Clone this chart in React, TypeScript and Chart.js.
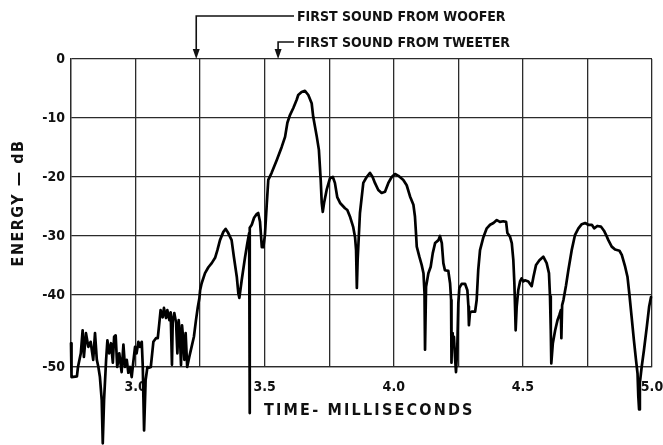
import React, { useEffect, useRef } from "react";
import { Chart, registerables } from "chart.js";

Chart.register(...registerables);

// ---- data (time in ms, energy in dB) ----
const TIME_MS = [
  2.750, 2.752, 2.773, 2.777, 2.788, 2.795, 2.800, 2.808, 2.817, 2.826,
  2.836, 2.843, 2.850, 2.856, 2.862, 2.869, 2.873, 2.878, 2.886, 2.891,
  2.898, 2.905, 2.912, 2.917, 2.923, 2.929, 2.937, 2.946, 2.953, 2.959,
  2.966, 2.972, 2.979, 2.985, 2.991, 2.998, 3.004, 3.011, 3.017, 3.024,
  3.028, 3.033, 3.039, 3.046, 3.052, 3.059, 3.069, 3.079, 3.086, 3.092,
  3.097, 3.105, 3.110, 3.118, 3.123, 3.131, 3.136, 3.141, 3.144, 3.150,
  3.157, 3.162, 3.167, 3.172, 3.176, 3.180, 3.185, 3.189, 3.194, 3.200,
  3.208, 3.217, 3.226, 3.234, 3.241, 3.247, 3.250, 3.256, 3.269, 3.282,
  3.295, 3.308, 3.317, 3.327, 3.340, 3.349, 3.359, 3.372, 3.381, 3.392,
  3.398, 3.402, 3.411, 3.424, 3.433, 3.440, 3.4415, 3.443, 3.450, 3.459,
  3.469, 3.475, 3.482, 3.489, 3.495, 3.501, 3.508, 3.514, 3.527, 3.547,
  3.566, 3.579, 3.588, 3.598, 3.611, 3.624, 3.630, 3.643, 3.656, 3.669,
  3.682, 3.688, 3.702, 3.710, 3.717, 3.721, 3.725, 3.730, 3.740, 3.753,
  3.764, 3.772, 3.781, 3.792, 3.811, 3.820, 3.831, 3.843, 3.850, 3.854,
  3.857, 3.860, 3.869, 3.882, 3.895, 3.908, 3.918, 3.927, 3.940, 3.953,
  3.966, 3.979, 3.992, 4.005, 4.018, 4.037, 4.050, 4.063, 4.076, 4.082,
  4.086, 4.089, 4.099, 4.108, 4.115, 4.119, 4.121, 4.125, 4.134, 4.143,
  4.151, 4.160, 4.173, 4.179, 4.186, 4.192, 4.198, 4.211, 4.218, 4.222,
  4.223, 4.224, 4.226, 4.228, 4.233, 4.237, 4.241, 4.246, 4.250, 4.254,
  4.263, 4.276, 4.285, 4.289, 4.291, 4.295, 4.302, 4.315, 4.321, 4.327,
  4.334, 4.347, 4.360, 4.373, 4.386, 4.399, 4.411, 4.424, 4.435, 4.440,
  4.450, 4.457, 4.463, 4.467, 4.470, 4.472, 4.476, 4.482, 4.489, 4.495,
  4.502, 4.508, 4.521, 4.534, 4.541, 4.551, 4.564, 4.579, 4.592, 4.601,
  4.605, 4.608, 4.610, 4.616, 4.625, 4.634, 4.641, 4.647, 4.649, 4.652,
  4.657, 4.667, 4.676, 4.689, 4.702, 4.715, 4.728, 4.741, 4.753, 4.767,
  4.776, 4.788, 4.802, 4.814, 4.822, 4.831, 4.844, 4.857, 4.874, 4.883,
  4.896, 4.905, 4.912, 4.921, 4.930, 4.938, 4.944, 4.947, 4.950, 4.953,
  4.960, 4.969, 4.980, 4.989, 4.996,
];

const ENERGY_DB = [
  -46.7, -51.4, -51.3, -50.0, -48.1, -44.9, -48.6, -45.3, -47.2, -46.5,
  -49.0, -45.3, -49.0, -50.0, -51.4, -54.6, -60.6, -54.6, -49.0, -46.3,
  -48.1, -46.7, -49.4, -45.8, -45.6, -50.0, -48.1, -50.7, -46.9, -50.0,
  -49.0, -50.8, -50.0, -51.4, -49.4, -47.2, -48.1, -46.5, -47.2, -46.5,
  -50.0, -58.8, -51.8, -50.0, -50.1, -50.0, -46.5, -46.0, -46.0, -43.9,
  -42.1, -43.1, -41.8, -43.2, -42.1, -43.5, -42.4, -49.7, -43.5, -42.5,
  -43.9, -48.1, -43.5, -45.8, -49.7, -44.2, -46.3, -49.0, -45.3, -50.0,
  -48.6, -47.2, -45.8, -43.5, -41.7, -40.5, -39.2, -38.0, -36.3, -35.3,
  -34.6, -33.7, -32.4, -30.7, -29.3, -28.8, -29.5, -30.7, -33.6, -36.9,
  -39.7, -40.4, -37.5, -33.6, -31.2, -29.5, -56.4, -28.6, -28.1, -26.9,
  -26.3, -26.1, -27.6, -31.9, -31.9, -29.8, -24.7, -20.5, -19.3, -17.1,
  -14.9, -13.2, -10.8, -9.5, -8.3, -6.9, -6.1, -5.6, -5.4, -6.1,
  -7.5, -9.8, -13.2, -15.4, -20.5, -24.4, -25.9, -24.4, -22.2, -20.2,
  -20.0, -21.0, -23.4, -24.4, -25.3, -25.6, -26.8, -28.5, -30.2, -32.4,
  -38.8, -34.1, -26.1, -21.0, -20.0, -19.3, -20.0, -21.0, -22.2, -22.7,
  -22.5, -21.0, -20.0, -19.5, -19.8, -20.5, -21.4, -23.3, -24.7, -26.7,
  -29.5, -31.8, -33.5, -34.9, -36.3, -39.7, -47.6, -38.6, -36.3, -35.2,
  -32.9, -31.2, -30.7, -30.0, -31.2, -34.6, -35.8, -35.9, -38.0, -40.7,
  -45.3, -49.4, -45.3, -46.3, -45.8, -48.6, -50.7, -47.2, -41.1, -38.8,
  -38.1, -38.1, -39.2, -41.6, -44.2, -42.5, -42.3, -42.3, -40.7, -35.8,
  -32.4, -30.2, -28.7, -28.1, -27.8, -27.3, -27.6, -27.5, -27.6, -29.5,
  -30.1, -31.2, -34.1, -38.0, -42.1, -44.9, -41.6, -39.2, -37.7, -37.2,
  -37.7, -37.5, -37.7, -38.5, -36.9, -34.9, -34.1, -33.5, -34.6, -36.3,
  -40.2, -44.9, -49.5, -46.7, -44.9, -43.5, -42.8, -42.1, -46.0, -41.4,
  -40.7, -38.4, -35.8, -32.4, -29.8, -28.7, -28.0, -27.8, -28.1, -28.1,
  -28.7, -28.3, -28.4, -29.1, -29.8, -30.7, -31.8, -32.3, -32.5, -33.2,
  -35.2, -36.9, -39.7, -43.0, -46.3, -49.0, -50.9, -54.1, -55.9, -52.2,
  -50.0, -47.6, -44.4, -41.6, -40.3,
];

const X_GRID_MS = [2.75, 3.0, 3.25, 3.5, 3.75, 4.0, 4.25, 4.5, 4.75, 5.0];
const X_LABELED_MS = [3.0, 3.5, 4.0, 4.5, 5.0];
const Y_TICKS_DB = [0, -10, -20, -30, -40, -50];

const MARKER_TIMES = [3.235, 3.552];
const MARKER_LABELS = ["FIRST SOUND FROM WOOFER", "FIRST SOUND FROM TWEETER"];
const X_TITLE = "TIME- MILLISECONDS";
const Y_TITLE = "ENERGY — dB";

// The printed chart's bottom row (-40 to -50 dB) is drawn taller than the others.
const LOW_ROW_STRETCH = 72 / 59;
const toDisplay = (v: number) => (v >= -40 ? v : -40 + (v + 40) * LOW_ROW_STRETCH);

const FONT = '"DejaVu Sans Condensed", "Liberation Sans Narrow", sans-serif';

const annotations = {
  id: "annotations",
  afterDraw(chart: any) {
    const { ctx, chartArea, scales } = chart;
    const x = scales.x;
    ctx.save();
    ctx.strokeStyle = "#111";
    ctx.fillStyle = "#111";
    ctx.lineWidth = 1.6;
    const textX = 297;
    const rowY = [16, 42];
    ctx.font = `bold 14px ${FONT}`;
    ctx.textBaseline = "middle";
    ctx.textAlign = "left";
    MARKER_TIMES.forEach((t, i) => {
      const px = x.getPixelForValue(t);
      const y0 = rowY[i];
      ctx.beginPath();
      ctx.moveTo(textX - 3, y0);
      ctx.lineTo(px, y0);
      ctx.lineTo(px, chartArea.top - 6);
      ctx.stroke();
      ctx.beginPath();
      ctx.moveTo(px - 3.5, chartArea.top - 10);
      ctx.lineTo(px + 3.5, chartArea.top - 10);
      ctx.lineTo(px, chartArea.top);
      ctx.closePath();
      ctx.fill();
      ctx.fillText(MARKER_LABELS[i], textX, y0 + 1);
    });
    // axis titles
    ctx.font = `bold 16px ${FONT}`;
    (ctx as any).letterSpacing = "2.2px";
    ctx.textAlign = "left";
    ctx.fillText(X_TITLE, 264, 411);
    ctx.translate(19, 203);
    ctx.rotate(-Math.PI / 2);
    ctx.textAlign = "center";
    ctx.font = `bold 16px ${FONT}`;
    (ctx as any).letterSpacing = "1.5px";
    ctx.fillText(Y_TITLE, 0, 0);
    ctx.restore();
  },
};

export default function App() {
  const ref = useRef<HTMLCanvasElement | null>(null);
  useEffect(() => {
    if (!ref.current) return;
    const points = TIME_MS.map((t, i) => ({ x: t, y: toDisplay(ENERGY_DB[i]) }));
    const yDisplayTicks = Y_TICKS_DB.map(toDisplay);
    const gridColor = "#2b2b2b";
    const chart = new Chart(ref.current, {
      type: "line",
      data: {
        datasets: [
          {
            data: points,
            borderColor: "#000",
            borderWidth: 2.7,
            pointRadius: 0,
            tension: 0,
            clip: false as any,
            borderJoinStyle: "round",
            borderCapStyle: "round",
          },
        ],
      },
      options: {
        responsive: false,
        animation: false,
        events: [],
        layout: { padding: { top: 59, left: 0, right: 11, bottom: 0 } },
        plugins: { legend: { display: false }, tooltip: { enabled: false } },
        scales: {
          x: {
            type: "linear",
            min: 2.75,
            max: 5.0,
            afterFit: (s: any) => {
              s.height = 78;
              s.paddingLeft = 0;
              s.paddingRight = 0;
            },
            afterBuildTicks: (s: any) => {
              s.ticks = X_GRID_MS.map((v) => ({ value: v }));
            },
            ticks: {
              autoSkip: false,
              maxRotation: 0,
              padding: 12,
              color: "#111",
              font: { family: FONT, size: 14, weight: "bold" },
              callback: (v: any) => {
                const n = Number(v);
                return X_LABELED_MS.some((l) => Math.abs(l - n) < 1e-6) ? n.toFixed(1) : "";
              },
            },
            grid: { color: gridColor, lineWidth: 1.3, drawTicks: false },
            border: { color: gridColor, width: 1.3 },
          },
          y: {
            type: "linear",
            min: toDisplay(-50),
            max: 0,
            afterFit: (s: any) => {
              s.width = 71;
              s.paddingTop = 0;
              s.paddingBottom = 0;
            },
            afterBuildTicks: (s: any) => {
              s.ticks = yDisplayTicks.map((v) => ({ value: v }));
            },
            ticks: {
              padding: 6,
              color: "#111",
              font: { family: FONT, size: 14, weight: "bold" },
              callback: (_v: any, i: number) => String(Y_TICKS_DB[i]),
            },
            grid: { color: gridColor, lineWidth: 1.3, drawTicks: false },
            border: { color: gridColor, width: 1.3 },
          },
        },
      },
      plugins: [annotations],
    });
    return () => chart.destroy();
  }, []);
  return (
    <div style={{ position: "absolute", left: 0, top: 0, width: 663, height: 445, background: "#fff" }}>
      <canvas ref={ref} width={663} height={445} style={{ display: "block" }} />
    </div>
  );
}
